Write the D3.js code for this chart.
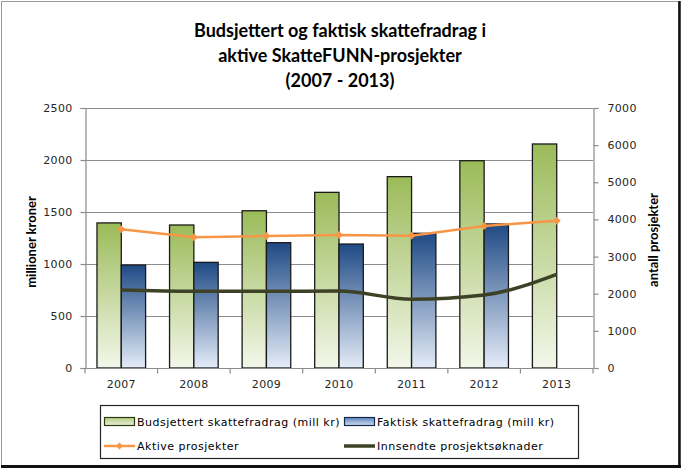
<!DOCTYPE html>
<html><head><meta charset="utf-8">
<script src="https://cdn.jsdelivr.net/npm/d3@7"></script>
<style>
html,body{margin:0;padding:0;background:#fff;}
svg{display:block;}
</style></head>
<body>
<svg id="chart" width="682" height="469"></svg>
<script>
// ---- data ----
const years = ["2007","2008","2009","2010","2011","2012","2013"];
const budsjettert = [1395, 1375, 1512, 1689, 1840, 1993, 2154];
const faktisk = [990, 1016, 1205, 1192, 1295, 1385, null];
const aktive = [3734, 3519, 3554, 3581, 3563, 3823, 3966];
const innsendte = [2100, 2065, 2065, 2073, 1850, 1965, 2523];
const leftTicks = [0, 500, 1000, 1500, 2000, 2500];
const rightTicks = [0, 1000, 2000, 3000, 4000, 5000, 6000, 7000];
const titleLines = ["Budsjettert og faktisk skattefradrag i", "aktive SkatteFUNN-prosjekter", "(2007 - 2013)"];
const seriesNames = ["Budsjettert skattefradrag (mill kr)", "Faktisk skattefradrag (mill kr)", "Aktive prosjekter", "Innsendte prosjektsøknader"];

const svg = d3.select("#chart");
const W = 682, H = 469;
const plot = {left: 85, right: 593, top: 108, bottom: 368};
const numFont = "'DejaVu Sans', Verdana, sans-serif";
const titleFont = "Lato, 'Open Sans', sans-serif";

svg.append("rect").attr("width", W).attr("height", H).attr("fill", "#fff");

// gradients
const defs = svg.append("defs");
function grad(id, top, bottom) {
  const g = defs.append("linearGradient").attr("id", id).attr("x1", 0).attr("y1", 0).attr("x2", 0).attr("y2", 1);
  g.append("stop").attr("offset", "0%").attr("stop-color", top);
  g.append("stop").attr("offset", "100%").attr("stop-color", bottom);
}
grad("gGreen", "#9bbb59", "#f3f7ea");
grad("gBlue", "#1f4a85", "#e4ecf8");
grad("lgGreen", "#b5cd85", "#e6efd6");
grad("lgBlue", "#5b86c0", "#cfdcef");

// scales
const x = d3.scaleBand().domain(years).range([plot.left, plot.right]).paddingInner(0.33).paddingOuter(0.165);
const xSub = d3.scaleBand().domain(["b", "f"]).range([0, x.bandwidth()]);
const yL = d3.scaleLinear().domain([0, 2500]).range([plot.bottom, plot.top]);
const yR = d3.scaleLinear().domain([0, 7000]).range([plot.bottom, plot.top]);
const step = (plot.right - plot.left) / years.length;

// gridlines
svg.append("g").selectAll("line").data(leftTicks.slice(1)).join("line")
  .attr("x1", plot.left).attr("x2", plot.right)
  .attr("y1", d => Math.round(yL(d)) + 0.5).attr("y2", d => Math.round(yL(d)) + 0.5)
  .attr("stroke", "#8c8c8c").attr("stroke-width", 1.2);

// bars
const grp = svg.append("g");
grp.selectAll("rect.b").data(years).join("rect").attr("class", "b")
  .attr("x", d => x(d) + xSub("b")).attr("width", xSub.bandwidth())
  .attr("y", (d, i) => yL(budsjettert[i])).attr("height", (d, i) => yL(0) - yL(budsjettert[i]))
  .attr("fill", "url(#gGreen)").attr("stroke", "#1a1a1a").attr("stroke-width", 1.3);
grp.selectAll("rect.f").data(years.filter((d, i) => faktisk[i] != null)).join("rect").attr("class", "f")
  .attr("x", d => x(d) + xSub("f")).attr("width", xSub.bandwidth())
  .attr("y", d => yL(faktisk[years.indexOf(d)])).attr("height", d => yL(0) - yL(faktisk[years.indexOf(d)]))
  .attr("fill", "url(#gBlue)").attr("stroke", "#1a1a1a").attr("stroke-width", 1.3);

// axes
const fmt = d3.format("d");
const axL = svg.append("g").attr("transform", `translate(${plot.left + 0.5},0)`)
  .call(d3.axisLeft(yL).tickValues(leftTicks).tickFormat(fmt).tickSize(5).tickPadding(8));
const axR = svg.append("g").attr("transform", `translate(${plot.right + 0.5},0)`)
  .call(d3.axisRight(yR).tickValues(rightTicks).tickFormat(fmt).tickSize(5).tickPadding(9));
const axX = svg.append("g").attr("transform", `translate(0,${plot.bottom + 0.5})`)
  .call(d3.axisBottom(x).tickSize(0).tickPadding(12));
[axL, axR, axX].forEach(a => {
  a.select(".domain").attr("stroke", "#8c8c8c").attr("stroke-width", 1.2);
  a.selectAll(".tick line").attr("stroke", "#8c8c8c").attr("stroke-width", 1.2);
  a.selectAll("text").attr("font-family", numFont).attr("font-size", 11).attr("fill", "#262626")
    .attr("letter-spacing", "0.3px");
});
axX.select(".domain").attr("d", `M${plot.left},0H${plot.right}`);
// x category boundary ticks
axX.append("g").selectAll("line").data(d3.range(years.length + 1)).join("line")
  .attr("x1", i => plot.left + i * step).attr("x2", i => plot.left + i * step)
  .attr("y1", 0).attr("y2", 5).attr("stroke", "#8c8c8c").attr("stroke-width", 1.2);

// lines
const cx = d => x(d) + x.bandwidth() / 2;
const lineAkt = d3.line().x((d, i) => cx(years[i])).y(d => yR(d));
svg.append("path").datum(aktive).attr("d", lineAkt).attr("fill", "none")
  .attr("stroke", "#f79646").attr("stroke-width", 2.5);
svg.append("g").selectAll("path").data(aktive).join("path")
  .attr("transform", (d, i) => `translate(${cx(years[i])},${yR(d)})`)
  .attr("d", d3.symbol(d3.symbolDiamond2, 40)).attr("fill", "#f79646");

const lineInn = d3.line().x((d, i) => cx(years[i])).y(d => yR(d)).curve(d3.curveMonotoneX);
svg.append("path").datum(innsendte).attr("d", lineInn).attr("fill", "none")
  .attr("stroke", "#3d4226").attr("stroke-width", 3.5);
svg.append("g").selectAll("path").data(innsendte).join("path")
  .attr("transform", (d, i) => `translate(${cx(years[i])},${yR(d)})`)
  .attr("d", d3.symbol(d3.symbolTimes, 40)).attr("fill", "#c8c8c8");

// title
svg.append("g").selectAll("text").data(titleLines).join("text")
  .attr("x", 340).attr("y", (d, i) => 37 + i * 25)
  .attr("text-anchor", "middle").attr("font-family", titleFont).attr("font-weight", "bold")
  .attr("font-size", 18).attr("fill", "#000").text(d => d);

// axis titles
svg.append("text").attr("transform", "translate(36,242) rotate(-90)")
  .attr("text-anchor", "middle").attr("font-family", titleFont).attr("font-weight", "bold")
  .attr("font-size", 13).text("millioner kroner");
svg.append("text").attr("transform", "translate(658,240) rotate(-90)")
  .attr("text-anchor", "middle").attr("font-family", titleFont).attr("font-weight", "bold")
  .attr("font-size", 13).text("antall prosjekter");

// legend
const lg = svg.append("g");
lg.append("rect").attr("x", 100.5).attr("y", 405.5).attr("width", 478).attr("height", 53)
  .attr("fill", "#fff").attr("stroke", "#262626").attr("stroke-width", 1.2);
const legItems = [
  {name: seriesNames[0], x: 104, y: 422, type: "bar", fill: "url(#lgGreen)", stroke: "#2b3a12"},
  {name: seriesNames[1], x: 344, y: 422, type: "bar", fill: "url(#lgBlue)", stroke: "#14284a"},
  {name: seriesNames[2], x: 104, y: 446, type: "line", color: "#f79646"},
  {name: seriesNames[3], x: 344, y: 446, type: "line2", color: "#3d4226"}
];
legItems.forEach(it => {
  if (it.type === "bar") {
    lg.append("rect").attr("x", it.x + 0.5).attr("y", it.y - 4.5).attr("width", 30).attr("height", 8)
      .attr("fill", it.fill).attr("stroke", it.stroke).attr("stroke-width", 1.2);
  } else if (it.type === "line") {
    lg.append("line").attr("x1", it.x).attr("x2", it.x + 31).attr("y1", it.y).attr("y2", it.y)
      .attr("stroke", it.color).attr("stroke-width", 2.5);
    lg.append("path").attr("transform", `translate(${it.x + 15.5},${it.y})`)
      .attr("d", d3.symbol(d3.symbolDiamond2, 30)).attr("fill", it.color);
  } else {
    lg.append("line").attr("x1", it.x).attr("x2", it.x + 31).attr("y1", it.y).attr("y2", it.y)
      .attr("stroke", it.color).attr("stroke-width", 3.5);
    lg.append("path").attr("transform", `translate(${it.x + 15.5},${it.y})`)
      .attr("d", d3.symbol(d3.symbolTimes, 25)).attr("fill", "#c8c8c8");
  }
  lg.append("text").attr("x", it.x + 33).attr("y", it.y + 4)
    .attr("font-family", numFont).attr("font-size", 11).attr("letter-spacing", "0.5px")
    .attr("fill", "#000").text(it.name);
});

// frame
svg.append("rect").attr("x", 1.5).attr("y", 1.5).attr("width", 677).attr("height", 464)
  .attr("fill", "none").attr("stroke", "#9a9a9a").attr("stroke-width", 1);
svg.append("line").attr("x1", 679.5).attr("x2", 679.5).attr("y1", 1).attr("y2", 468)
  .attr("stroke", "#111").attr("stroke-width", 2.5);
svg.append("line").attr("x1", 1).attr("x2", 681).attr("y1", 466.5).attr("y2", 466.5)
  .attr("stroke", "#111").attr("stroke-width", 3);
</script>
</body></html>
